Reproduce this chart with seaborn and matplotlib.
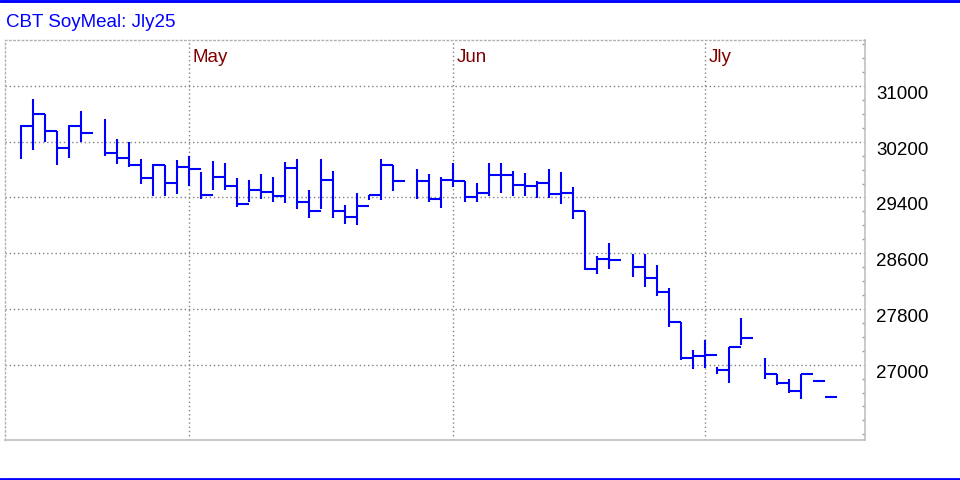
import numpy as np
import pandas as pd
import matplotlib
matplotlib.use("Agg")
import matplotlib.pyplot as plt
import matplotlib.transforms as mtransforms
from matplotlib.lines import Line2D
from matplotlib.ticker import FixedLocator, MultipleLocator
import seaborn as sns

# Trading days: holidays are skipped but keep their slot on the axis
start_day = "2025-04-10"
end_day = "2025-07-14"
holidays = ["2025-04-18", "2025-05-26", "2025-06-19", "2025-07-04"]

highs = [30444, 30815, 30596, 30350, 30444, 30644,
         30530, 30245, 30202, 29946, 29884, 29870, 29932, 30000, 29762, 29929,
         29900, 29681, 29657, 29743, 29700, 29910, 29957, 29500, 29957, 29786,
         29290, 29457, 29433, 29955, 29868,
         29802, 29731, 29698, 29888, 29641, 29604, 29888, 29888, 29783, 29746,
         29641, 29802, 29760, 29544, 29210, 28561, 28750,
         28590, 28590, 28426, 28100, 27610, 27214, 27348, 26971, 27248, 27676,
         27100, 26862, 26790, 26862, 26767, 26538]
lows = [29946, 30088, 30193, 29865, 29960, 30202,
        29993, 29879, 29837, 29595, 29424, 29424, 29452, 29564, 29381, 29505,
        29505, 29267, 29333, 29381, 29333, 29319, 29229, 29110, 29229, 29110,
        29024, 29005, 29367, 29362, 29492,
        29381, 29329, 29253, 29551, 29329, 29329, 29424, 29457, 29424, 29424,
        29395, 29395, 29310, 29098, 28358, 28299, 28367,
        28261, 28115, 27984, 27543, 27062, 26943, 26952, 26871, 26738, 27286,
        26800, 26705, 26600, 26514, 26767, 26538]
closes = [30421, 30596, 30350, 30103, 30421, 30321,
          30041, 29960, 29860, 29675, 29865, 29604, 29837, 29810, 29429, 29690,
          29562, 29300, 29505, 29481, 29419, 29819, 29338, 29210, 29648, 29210,
          29119, 29276, 29429, 29867, 29635,
          29637, 29376, 29651, 29641, 29409, 29471, 29727, 29727, 29585, 29566,
          29608, 29443, 29471, 29210, 28367, 28513, 28498,
          28406, 28237, 28048, 27610, 27090, 27124, 27133, 26929, 27248, 27376,
          26862, 26733, 26619, 26862, 26767, 26538]

month_names = ["May", "Jun", "Jly"]
month_marks = ["2025-04-30", "2025-05-30", "2025-06-30"]
price_ticks = [27000, 27800, 28600, 29400, 30200, 31000]

days = pd.bdate_range(start_day, end_day)
days = days[~days.isin(pd.to_datetime(holidays))]
d0 = np.datetime64(start_day)
df = pd.DataFrame({
    "slot": np.busday_count(d0, days.values.astype("datetime64[D]")),
    "high": highs, "low": lows, "close": closes,
})
mark_slots = np.busday_count(d0, np.array(month_marks, dtype="datetime64[D]"))

sns.set_style("white")
plt.rcParams["font.family"] = ["Liberation Sans", "DejaVu Sans"]

fig = plt.figure(figsize=(9.6, 4.8), dpi=100)
ax = fig.add_axes([5 / 960, 40 / 480, 860 / 960, 400 / 480])

blue = "#0000FF"
ax.vlines(df["slot"], df["low"], df["high"], color=blue, lw=1.5)
ax.hlines(df["close"], df["slot"], df["slot"] + 1, color=blue, lw=1.5)

ax.set_xlim(-1.333, 70.333)
ax.set_ylim(25919, 31660)

# dotted grid
dot = (0, (1, 2))
for y in price_ticks:
    ax.axhline(y, color="#808080", lw=1, ls=dot, zorder=0)
mk = mtransforms.blended_transform_factory(ax.transData, ax.transAxes)
for s, name in zip(mark_slots, month_names):
    ax.axvline(s, color="#808080", lw=1, ls=dot, zorder=0)
    ax.text(s + 4 / 12, 0.9458, name, transform=mk, color="#800000",
            fontsize=13.5, va="baseline", ha="left")

# right price axis
ax.set_xticks([])
ax.yaxis.tick_right()
ax.yaxis.set_major_locator(FixedLocator(price_ticks))
ax.yaxis.set_minor_locator(MultipleLocator(200))
ax.tick_params(axis="y", which="major", length=0, pad=8, labelsize=13.5,
               labelcolor="black")
ax.tick_params(axis="y", which="minor", right=True, direction="in",
               length=2.5, width=1, color="#a0a0a0")
for lab in ax.get_yticklabels():
    lab.set_va("top")

for side in ["top", "left"]:
    ax.spines[side].set_linestyle(dot)
    ax.spines[side].set_color("#b0b0b0")
    ax.spines[side].set_linewidth(1)
for side in ["right", "bottom"]:
    ax.spines[side].set_color("#c0c0c0")
    ax.spines[side].set_linewidth(1.2)

fig.text(6 / 960, 1 - 27.3 / 480, "CBT SoyMeal: Jly25", color=blue,
         fontsize=13.5, va="baseline", ha="left")
fig.add_artist(Line2D([0, 1], [1 - 1.4 / 480, 1 - 1.4 / 480],
                      transform=fig.transFigure, color=blue, lw=2.1))
fig.add_artist(Line2D([0, 1], [1.3 / 480, 1.3 / 480],
                      transform=fig.transFigure, color=blue, lw=2.0))

fig.savefig("out.png", dpi=100)
